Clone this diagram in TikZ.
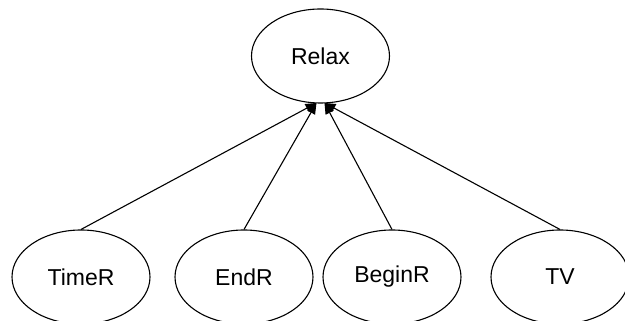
\documentclass[tikz,border=0pt]{standalone}
\usepackage{fontspec}
\setmainfont{Liberation Sans}
\usetikzlibrary{arrows.meta,shapes.geometric}

\begin{document}
\begin{tikzpicture}[x=1pt,y=1pt,
    var/.style={draw, ellipse, line width=1.1pt, minimum width=138pt, minimum height=94pt,
        inner sep=0pt, font=\fontsize{23}{27}\selectfont},
    dep/.style={line width=1.1pt, -{Triangle[length=11pt,width=9pt]}}]

    \clip (0,0) rectangle (625,321);
    \useasboundingbox (0,0) rectangle (625,321);

    \node[var] (relax) at (320.5,265) {Relax};
    \node[var] (timer) at (81,44) {TimeR};
    \node[var] (endr) at (244,44) {EndR};
    \node[var] (beginr) at (392,44) {BeginR};
    \node[var] (tv) at (560,44) {TV};

    \draw[dep] (timer.north) -- ([shift={(-4pt,0.6pt)}]relax.south);
    \draw[dep] (tv.north) -- ([shift={(4pt,0.6pt)}]relax.south);
    \draw[dep] (endr.north) -- ([shift={(-4pt,0.6pt)}]relax.south);
    \draw[dep] (beginr.north) -- ([shift={(4pt,0.6pt)}]relax.south);

\end{tikzpicture}
\end{document}
